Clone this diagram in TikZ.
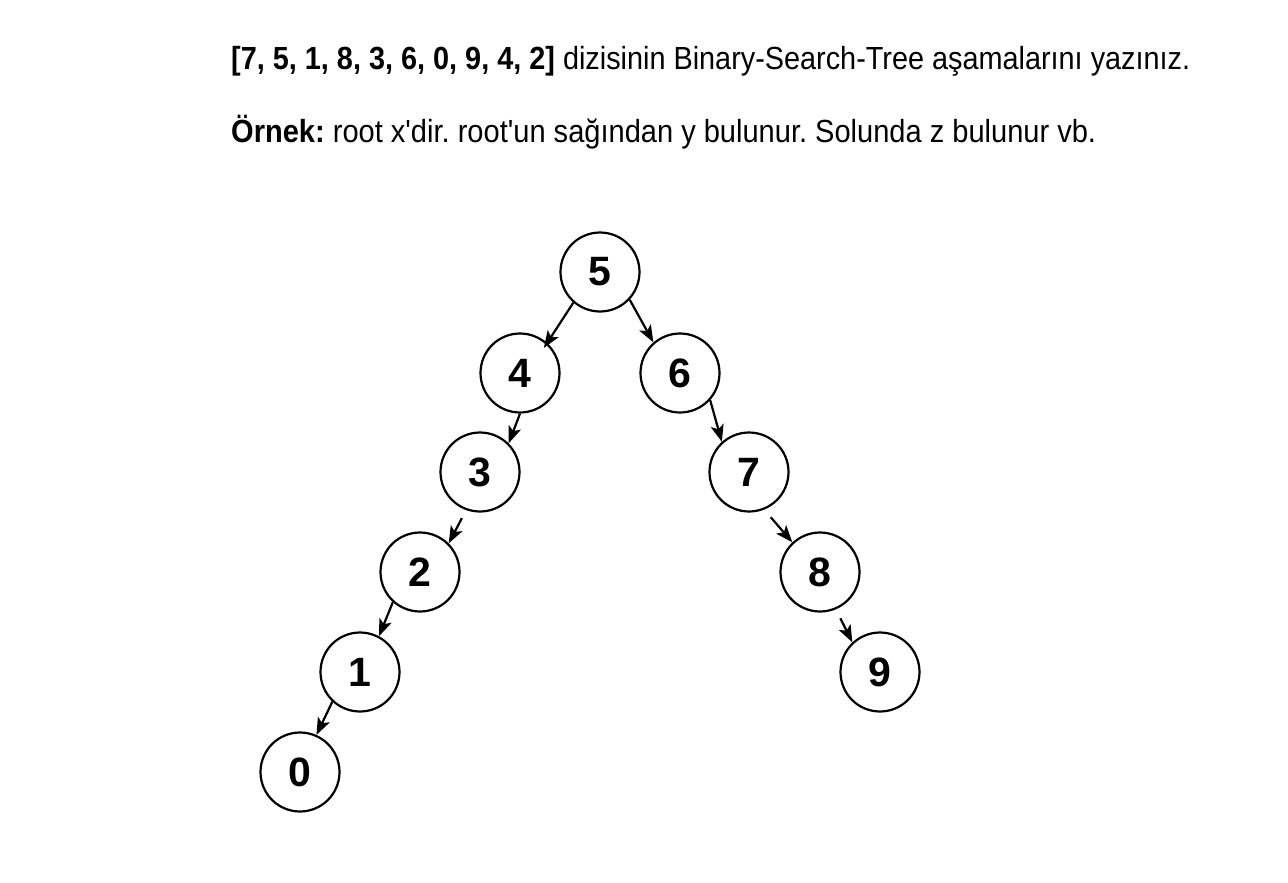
\documentclass[tikz,border=0pt]{standalone}
\usepackage{fontspec}
\setmainfont{Liberation Sans}
\usetikzlibrary{arrows.meta}
\frenchspacing

\begin{document}
\begin{tikzpicture}[x=1pt,y=-1pt,
    bstnode/.style={circle,draw,line width=2.2pt,minimum size=79pt,inner sep=0pt,
      font=\fontsize{41}{44}\selectfont\bfseries},
    bstarrow/.style={-{Stealth[length=17pt,width=13pt,inset=4pt]},line width=2.2pt},
    tasktext/.style={anchor=base west,inner sep=0pt,font=\fontsize{32}{36}\selectfont}]
  \useasboundingbox (0,0) rectangle (1288,883);
  % the question
  \node[tasktext] (task) at (231,70)
    {\resizebox{959pt}{\height}{\textbf{[7, 5, 1, 8, 3, 6, 0, 9, 4, 2]} dizisinin Binary-Search-Tree aşamalarını yazınız.}};
  \node[tasktext] (example) at (231,142)
    {\resizebox{865pt}{\height}{\textbf{Örnek:} root x\textquotesingle dir. root\textquotesingle un sağından y bulunur. Solunda z bulunur vb.}};
  % ten nodes
  \node[bstnode] (n5) at (600,272) {5};
  \node[bstnode] (n4) at (520,373) {4};
  \node[bstnode] (n6) at (680,373) {6};
  \node[bstnode] (n3) at (480,472) {3};
  \node[bstnode] (n7) at (749,472) {7};
  \node[bstnode] (n2) at (420,572) {2};
  \node[bstnode] (n8) at (820,572) {8};
  \node[bstnode] (n1) at (360,672) {1};
  \node[bstnode] (n9) at (880,672) {9};
  \node[bstnode] (n0) at (300,772) {0};
  % and nine arrows
  \draw[bstarrow,shorten >=-6pt] (n5.229) -- (n4.48);
  \draw[bstarrow] (n5.317) -- (n6.131);
  \draw[bstarrow] (n4.270) -- (n3.45);
  \draw[bstarrow] (n6.318) -- (n7.132);
  \draw[bstarrow,shorten <=9pt] (n3.250) -- (n2.45);
  \draw[bstarrow] (n2.228) -- (n1.62);
  \draw[bstarrow,shorten <=10pt] (n7.292) -- (n8.133);
  \draw[bstarrow,shorten <=10pt] (n8.293) -- (n9.133);
  \draw[bstarrow] (n1.227) -- (n0.66);
\end{tikzpicture}
\end{document}
